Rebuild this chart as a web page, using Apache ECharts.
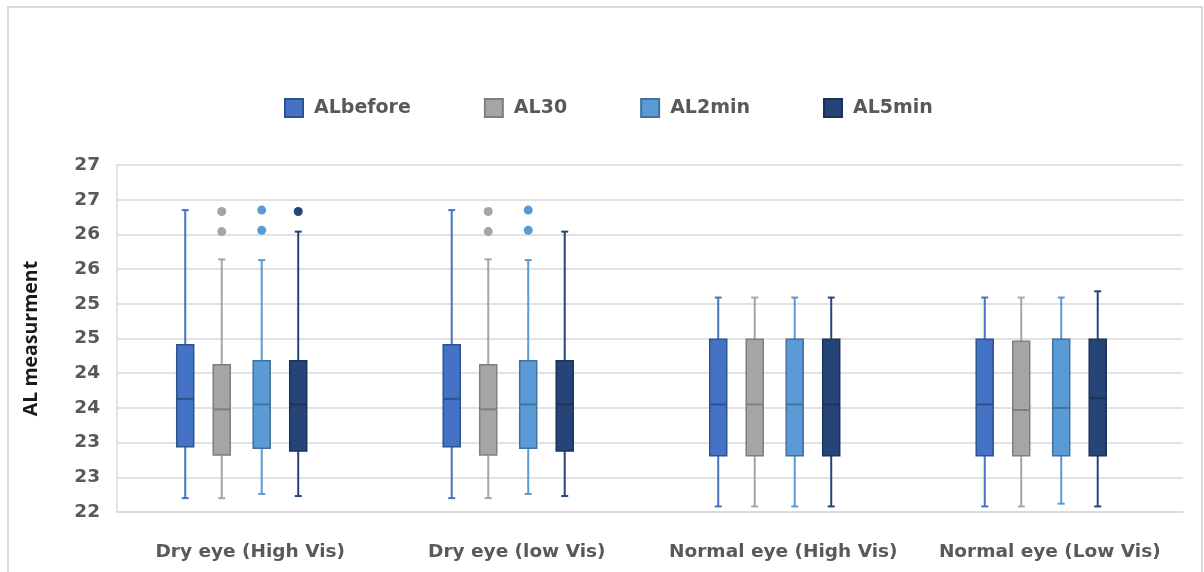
<!DOCTYPE html>
<html>
<head>
<meta charset="utf-8">
<title>AL measurment</title>
<script src="https://cdn.jsdelivr.net/npm/echarts@6/dist/echarts.min.js"></script>
<style>
  html, body { margin: 0; padding: 0; background: #fff; }
  #chart { width: 1204px; height: 572px; }
</style>
</head>
<body>
<div id="chart"></div>
<script>
// categories on the x axis
const categories = ['Dry eye (High Vis)', 'Dry eye (low Vis)', 'Normal eye (High Vis)', 'Normal eye (Low Vis)']
const seriesNames = ['ALbefore', 'AL30', 'AL2min', 'AL5min']
// y tick labels (Excel rounds the 0.5 steps to whole numbers)
const yTickLabels = ['22', '23', '23', '24', '24', '25', '25', '26', '26', '27', '27']

// box values per category: [min, q1, median, q3, max]
const alBefore = [
  [22.20, 22.94, 23.63, 24.41, 26.35],
  [22.20, 22.94, 23.63, 24.41, 26.35],
  [22.08, 22.81, 23.55, 24.49, 25.09],
  [22.08, 22.81, 23.55, 24.49, 25.09]
]
const al30 = [
  [22.20, 22.82, 23.48, 24.12, 25.64],
  [22.20, 22.82, 23.48, 24.12, 25.64],
  [22.08, 22.81, 23.55, 24.49, 25.09],
  [22.08, 22.81, 23.47, 24.46, 25.09]
]
const al2min = [
  [22.26, 22.92, 23.55, 24.18, 25.63],
  [22.26, 22.92, 23.55, 24.18, 25.63],
  [22.08, 22.81, 23.55, 24.49, 25.09],
  [22.12, 22.81, 23.50, 24.49, 25.09]
]
const al5min = [
  [22.23, 22.88, 23.55, 24.18, 26.04],
  [22.23, 22.88, 23.55, 24.18, 26.04],
  [22.08, 22.81, 23.55, 24.49, 25.09],
  [22.08, 22.81, 23.64, 24.49, 25.18]
]
// outliers: [category index, value]
const alBeforeOut = []
const al30Out = [[0, 26.04], [0, 26.33], [1, 26.04], [1, 26.33]]
const al2minOut = [[0, 26.06], [0, 26.35], [1, 26.06], [1, 26.35]]
const al5minOut = [[0, 26.33]]

const boxValues = [alBefore, al30, al2min, al5min]
const outValues = [alBeforeOut, al30Out, al2minOut, al5minOut]

// look of each series
const fills = ['#4472C4', '#A5A5A5', '#5B9BD5', '#264478']
const borders = ['#2F528F', '#7F7F7F', '#41719C', '#1C3358']
// position of each series inside a category band (fraction of the band)
const offsets = [-0.244, -0.107, 0.043, 0.18]
const boxW = 17
const capW = 7

const makeBoxRender = (s) => (params, api) => {
  const cat = api.value(0)
  const band = api.size([1, 0])[0]
  const x = api.coord([cat, 0])[0] + band * offsets[s]
  const y = (i) => api.coord([cat, api.value(i)])[1]
  const yMin = y(1), yQ1 = y(2), yMed = y(3), yQ3 = y(4), yMax = y(5)
  const wh = { stroke: fills[s], lineWidth: 2 }
  return {
    type: 'group',
    children: [
      { type: 'line', shape: { x1: x, y1: yMax, x2: x, y2: yQ3 }, style: wh },
      { type: 'line', shape: { x1: x, y1: yQ1, x2: x, y2: yMin }, style: wh },
      { type: 'line', shape: { x1: x - capW / 2, y1: yMax, x2: x + capW / 2, y2: yMax }, style: wh },
      { type: 'line', shape: { x1: x - capW / 2, y1: yMin, x2: x + capW / 2, y2: yMin }, style: wh },
      { type: 'rect', shape: { x: x - boxW / 2, y: yQ3, width: boxW, height: yQ1 - yQ3 },
        style: { fill: fills[s], stroke: borders[s], lineWidth: 1.5 } },
      { type: 'line', shape: { x1: x - boxW / 2, y1: yMed, x2: x + boxW / 2, y2: yMed },
        style: { stroke: borders[s], lineWidth: 2 } }
    ]
  }
}

const makeOutRender = (s) => (params, api) => {
  const band = api.size([1, 0])[0]
  const p = api.coord([api.value(0), api.value(1)])
  return {
    type: 'circle',
    shape: { cx: p[0] + band * offsets[s], cy: p[1], r: 4.5 },
    style: { fill: fills[s] }
  }
}

let series = []
for (let s = 0; s < seriesNames.length; s++) {
  series.push({
    name: seriesNames[s],
    type: 'custom',
    renderItem: makeBoxRender(s),
    itemStyle: { color: fills[s], borderColor: borders[s], borderWidth: 1 },
    encode: { x: 0, y: [1, 2, 3, 4, 5] },
    data: boxValues[s].map((v, i) => [i].concat(v))
  })
}
for (let s = 0; s < seriesNames.length; s++) {
  series.push({
    name: seriesNames[s],
    type: 'custom',
    renderItem: makeOutRender(s),
    itemStyle: { color: fills[s] },
    encode: { x: 0, y: 1 },
    data: outValues[s]
  })
}

// the picture is a bit wide, DejaVu Sans fits the stretched text best
const font = '"DejaVu Sans", sans-serif'
const option = {
  animation: false,
  textStyle: { fontFamily: font },
  graphic: [{
    type: 'rect',
    shape: { x: 8, y: 7, width: 1194, height: 620 },
    style: { fill: 'none', stroke: '#D9D9D9', lineWidth: 2 },
    silent: true
  }],
  legend: {
    data: seriesNames,
    top: 93,
    left: 279,
    icon: 'rect',
    itemWidth: 18,
    itemHeight: 18,
    itemGap: 73,
    textStyle: { fontSize: 19, fontWeight: 'bold', color: '#595959', fontFamily: font, padding: [0, 0, 0, 6] }
  },
  grid: { left: 117, right: 21, top: 165, bottom: 60 },
  xAxis: {
    type: 'category',
    data: categories,
    axisLine: { lineStyle: { color: '#D9D9D9', width: 1.5 } },
    axisTick: { show: false },
    axisLabel: { interval: 0, margin: 31, fontSize: 18.5, fontWeight: 'bold', color: '#595959', fontFamily: font }
  },
  yAxis: {
    type: 'value',
    name: 'AL measurment',
    nameLocation: 'middle',
    nameGap: 76,
    nameTextStyle: { fontSize: 19.5, fontWeight: 'bold', color: '#1A1A1A', fontFamily: '"Open Sans", sans-serif' },
    min: 22,
    max: 27,
    interval: 0.5,
    axisLine: { show: true, lineStyle: { color: '#D9D9D9', width: 1.5 } },
    axisTick: { show: false },
    splitLine: { lineStyle: { color: '#D9D9D9', width: 1.5 } },
    axisLabel: {
      margin: 17,
      fontSize: 18.5,
      fontWeight: 'bold',
      color: '#595959',
      fontFamily: font,
      formatter: (v) => yTickLabels[Math.round((v - 22) / 0.5)]
    }
  },
  series: series
}

let box = echarts.init(document.getElementById('chart'))
box.setOption(option)
</script>
</body>
</html>
